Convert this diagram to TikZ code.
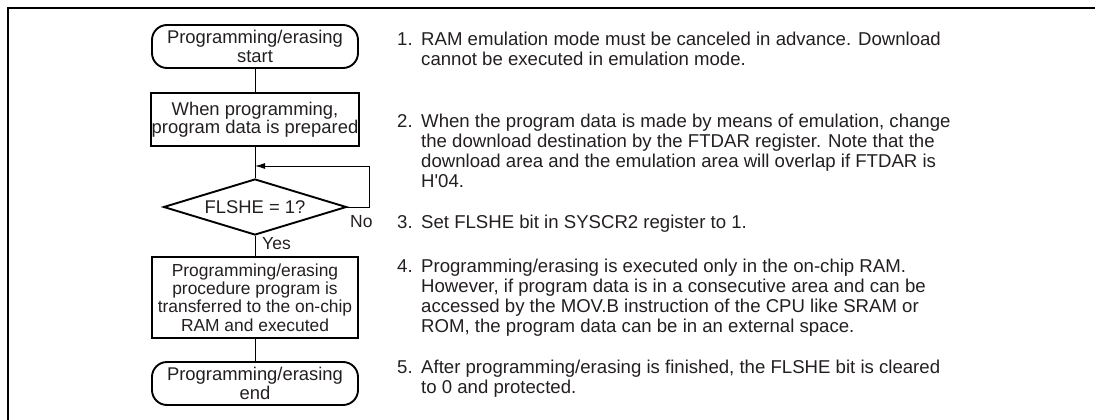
\documentclass[tikz,border=0pt]{standalone}
\usepackage{fontspec}
\setmainfont{Liberation Sans}
\usetikzlibrary{arrows.meta,shapes.geometric}
\definecolor{ink}{RGB}{35,31,32}
\begin{document}
\begin{tikzpicture}[x=1pt,y=-1pt,
  txt/.style={text=ink,font=\fontsize{18.4}{18.5}\selectfont},
  term/.style={draw,line width=1.9pt,rounded corners=15pt,minimum width=206pt,minimum height=43pt,inner sep=0pt,align=center,txt},
  procA/.style={draw,line width=2.2pt,rectangle,minimum width=208pt,minimum height=53pt,inner sep=0pt,align=center,txt},
  procB/.style={draw,line width=1.6pt,rectangle,minimum width=206pt,minimum height=81pt,inner sep=0pt,align=center,text=ink,font=\fontsize{17.4}{18.3}\selectfont},
  dec/.style={draw,diamond,line width=1.9pt,aspect=3.3,minimum width=183pt,minimum height=56pt,inner sep=0pt,txt},
  conn/.style={line width=1pt},
  lbl/.style={inner sep=0pt,anchor=base west,text=ink,font=\fontsize{17.5}{18}\selectfont},
  note/.style={inner sep=0pt,anchor=base west,text=ink,font=\fontsize{18.6}{20}\selectfont}]
\useasboundingbox (0,0) rectangle (1095,420);
\draw[line width=2.6pt] (8,421) -- (8,8) -- (1096,8);

\node[term]  (start) at (255,46.5) {Programming/erasing\\start};
\node[procA] (prep)  at (255,119.5) {When programming,\\program data is prepared};
\node[dec]   (dia)   at (255,207) {FLSHE = 1?};
\node[procB] (xfer)  at (255,297.5) {Programming/erasing\\procedure program is\\transferred to the on-chip\\RAM and executed};
\node[term]  (stop)  at (255,383.5) {Programming/erasing\\end};
\coordinate (join) at (255,166);

\draw[conn] (start) -- (prep);
\draw[conn] (prep) -- (dia);
\draw[conn,-{Latex[length=10pt,width=6pt]}] (dia.east) -- ++(22,0) |- (join);
\draw[conn] (dia) -- (xfer);
\draw[conn] (xfer) -- (stop);
\node[lbl] (no)  at (350,227) {No};
\node[lbl] (yes) at (262,249) {Yes};

\node[note] (n1) at (397,46) {\begin{tabular}[t]{@{}l@{\hspace{8.5pt}}l@{}}1. & RAM emulation mode must be canceled in advance. Download\\ & cannot be executed in emulation mode.\end{tabular}};
\node[note] (n2) at (397,127) {\begin{tabular}[t]{@{}l@{\hspace{8.5pt}}l@{}}2. & When the program data is made by means of emulation, change\\ & the download destination by the FTDAR register. Note that the\\ & download area and the emulation area will overlap if FTDAR is\\ & H\textquotesingle 04.\end{tabular}};
\node[note] (n3) at (397,228) {\begin{tabular}[t]{@{}l@{\hspace{8.5pt}}l@{}}3. & Set FLSHE bit in SYSCR2 register to 1.\end{tabular}};
\node[note] (n4) at (397,272) {\begin{tabular}[t]{@{}l@{\hspace{8.5pt}}l@{}}4. & Programming/erasing is executed only in the on-chip RAM.\\ & However, if program data is in a consecutive area and can be\\ & accessed by the MOV.B instruction of the CPU like SRAM or\\ & ROM, the program data can be in an external space.\end{tabular}};
\node[note] (n5) at (397,373) {\begin{tabular}[t]{@{}l@{\hspace{8.5pt}}l@{}}5. & After programming/erasing is finished, the FLSHE bit is cleared\\ & to 0 and protected.\end{tabular}};
\end{tikzpicture}
\end{document}
